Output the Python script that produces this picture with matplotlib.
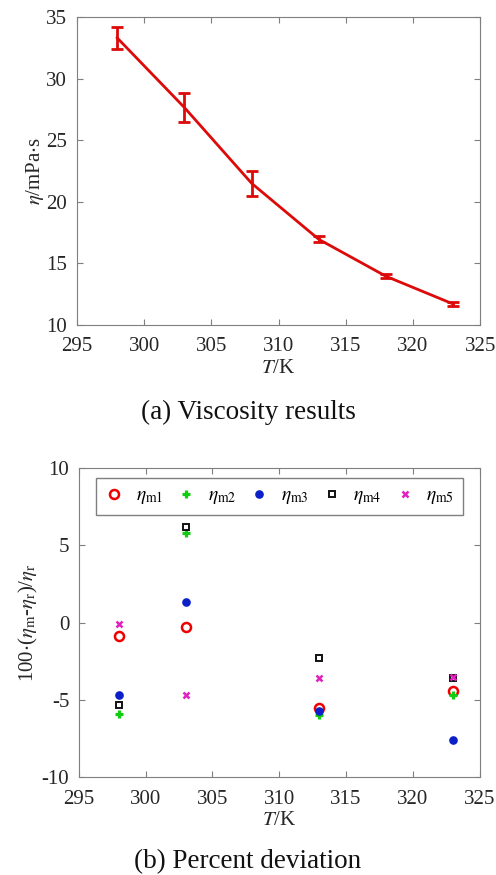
import matplotlib
matplotlib.use('Agg')
import matplotlib.pyplot as plt

plt.rcParams.update({
    'font.family': 'Liberation Serif',
    'mathtext.fontset': 'stix',
    'font.size': 15,
    'axes.unicode_minus': False,
    'axes.edgecolor': '#7f7f7f',
    'xtick.color': '#7f7f7f',
    'ytick.color': '#7f7f7f',
    'xtick.labelcolor': '#262626',
    'ytick.labelcolor': '#262626',
    'xtick.direction': 'in',
    'ytick.direction': 'in',
})

# (a) viscosity results
T_VISC = [298, 303, 308, 313, 318, 323]
ETA = [33.3, 27.65, 21.5, 16.95, 13.95, 11.7]
ETA_ERR = [0.9, 1.2, 1.0, 0.25, 0.15, 0.2]

# (b) percent deviation
T_DEV = [298, 303, 313, 323]
DEV = {
    'm1': [-0.86, -0.28, -5.51, -4.43],
    'm2': [-5.90, 5.82, -5.97, -4.71],
    'm3': [-4.71, 1.32, -5.73, -7.62],
    'm4': [-5.32, 6.16, -2.31, -3.62],
    'm5': [-0.09, -4.69, -3.57, -3.54],
}

STYLES = {
    'm1': dict(marker='o', ms=6.5, mfc='none', mec='#ee0000', mew=1.8),
    'm2': dict(marker='+', ms=6, mec='#11cc11', mew=2.3),
    'm3': dict(marker='o', ms=5.2, mfc='#0a1fc8', mec='#0a1fc8', mew=1),
    'm4': dict(marker='s', ms=4.8, mfc='none', mec='#111111', mew=1.4),
    'm5': dict(marker='x', ms=4.2, mec='#e020c0', mew=1.8),
}

fig = plt.figure(figsize=(4.96, 8.75), dpi=100)

ax1 = fig.add_axes([0.155, 0.6286, 0.813, 0.352])
ax1.errorbar(T_VISC, ETA, yerr=ETA_ERR, color='#dd0a0a', lw=2,
             capsize=4, capthick=2, elinewidth=2)
ax1.set_xlim(295, 325)
ax1.set_ylim(10, 35)
ax1.set_xticks(range(295, 326, 5))
ax1.set_yticks(range(10, 36, 5))
ax1.tick_params(top=True, right=True, length=4, width=0.8)
ax1.tick_params(axis='x', pad=9)
ax1.tick_params(axis='y', pad=7)
ax1.set_xlabel(r'$T$/K', color='#262626', labelpad=2)
ax1.set_ylabel(r'$\eta$/mPa$\cdot$s', color='#262626', labelpad=0)
fig.text(0.5, 1 - 412 / 875, '(a) Viscosity results', ha='center', va='center',
         fontsize=19.5, color='#111111')

ax2 = fig.add_axes([0.159, 0.112, 0.808, 0.353])
for key, vals in DEV.items():
    ax2.plot(T_DEV, vals, ls='none', label=r'$\eta_{\rm ' + key + '}$', **STYLES[key])
ax2.set_xlim(295, 325)
ax2.set_ylim(-10, 10)
ax2.set_xticks(range(295, 326, 5))
ax2.set_yticks(range(-10, 11, 5))
ax2.tick_params(top=True, right=True, length=4, width=0.8)
ax2.tick_params(axis='x', pad=9)
ax2.tick_params(axis='y', pad=7)
ax2.set_xlabel(r'$T$/K', color='#262626', labelpad=2)
ax2.set_ylabel(r'100$\cdot$($\eta_{\rm m}$-$\eta_{\rm r}$)/$\eta_{\rm r}$',
               color='#262626', labelpad=1)
leg = ax2.legend(loc='upper center', bbox_to_anchor=(0.5, 0.968), ncol=5,
                 fancybox=False, edgecolor='#7f7f7f', framealpha=1,
                 handletextpad=0.6, columnspacing=0.7, borderpad=0.45,
                 borderaxespad=0, handlelength=1.0, fontsize=14)
leg.get_frame().set_linewidth(1)
fig.text(0.5, 1 - 862 / 875, '(b) Percent deviation', ha='center', va='center',
         fontsize=19.5, color='#111111')

fig.savefig('out.png', dpi=100)
